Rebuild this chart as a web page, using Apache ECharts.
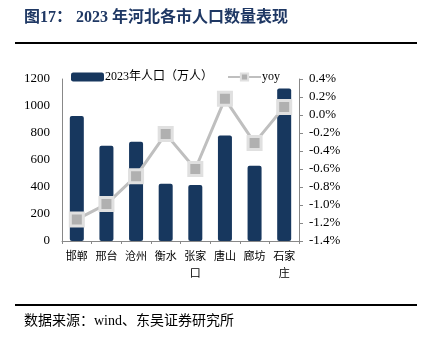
<!DOCTYPE html>
<html><head><meta charset="utf-8">
<script src="https://cdn.jsdelivr.net/npm/echarts@6/dist/echarts.min.js"></script>
<style>html,body{margin:0;padding:0;background:#fff;}#c{width:433px;height:338px;}</style>
</head><body><div id="c"></div>
<script>
var categories = ['邯郸','邢台','沧州','衡水','张家\n口','唐山','廊坊','石家\n庄'];
var population = [926, 706, 736, 425, 414, 782, 557, 1130];
var yoy = [-1.16, -0.99, -0.68, -0.21, -0.60, 0.18, -0.31, 0.09];
var leftTicks = [0, 1200, 200];
var rightTicks = [-1.4, 0.4, 0.2];
var titleText = '图17： 2023 年河北各市人口数量表现';
var sourceText = '数据来源：wind、东吴证券研究所';
var seriesNames = ['2023年人口（万人）', 'yoy'];

var serif = '"Liberation Serif", "Noto Sans CJK SC", serif';
var chart = echarts.init(document.getElementById('c'));
chart.setOption({
  animation: false,
  backgroundColor: '#fff',
  graphic: [
    {type:'text', left:24, top:10, style:{text:titleText, font:'bold 16px "Liberation Serif", "Noto Sans CJK SC"', fill:'#1f3864'}},
    {type:'rect', shape:{x:15, y:42, width:402, height:2}, style:{fill:'#000'}},
    {type:'rect', shape:{x:15, y:304, width:402, height:2}, style:{fill:'#000'}},
    {type:'text', left:24, top:314, style:{text:sourceText, font:'14px "Liberation Serif", "Noto Sans CJK SC"', fill:'#000'}}
  ],
  legend: {
    top: 66, left: 66, itemGap: 14, itemWidth: 33, itemHeight: 9,
    textStyle: {fontFamily: serif, fontSize: 12, color: '#000', padding:[0,0,0,-4]},
    data: [
      {name: seriesNames[0], icon: 'roundRect'},
      {name: seriesNames[1]}
    ]
  },
  grid: {left: 62, right: 134, top: 79, bottom: 97},
  xAxis: {
    type: 'category', data: categories,
    axisLine: {lineStyle: {color: '#888'}},
    axisTick: {show: true, lineStyle:{color:'#888'}, length: 3},
    axisLabel: {interval: 0, fontFamily: serif, fontSize: 11, color: '#000', margin: 8, lineHeight: 17}
  },
  yAxis: [
    {type:'value', min:leftTicks[0], max:leftTicks[1], interval:leftTicks[2],
     axisLine:{show:true, lineStyle:{color:'#888'}}, axisTick:{show:false},
     splitLine:{show:false},
     axisLabel:{fontFamily: serif, fontSize: 13, color:'#000', margin: 12,
       formatter: function(v){ return String(v); }}},
    {type:'value', min:rightTicks[0], max:rightTicks[1], interval:rightTicks[2],
     position:'right',
     axisLine:{show:true, lineStyle:{color:'#888'}}, axisTick:{show:true, length:4, lineStyle:{color:'#888'}},
     splitLine:{show:false},
     axisLabel:{fontFamily: serif, fontSize: 13, color:'#000', margin: 10,
       formatter: function(v){ return v.toFixed(1) + '%'; }}}
  ],
  series: [
    {name: seriesNames[0], type:'bar', data: population, barWidth: 14,
     itemStyle:{color:'#17375e', borderRadius: 2}},
    {name: seriesNames[1], type:'line', yAxisIndex:1, data: yoy,
     symbol:'rect', symbolSize: 13,
     lineStyle:{color:'#bfbfbf', width:3},
     itemStyle:{color:'#b0b0b0', borderColor:'#e0e0e0', borderWidth:3}}
  ]
});
</script></body></html>
